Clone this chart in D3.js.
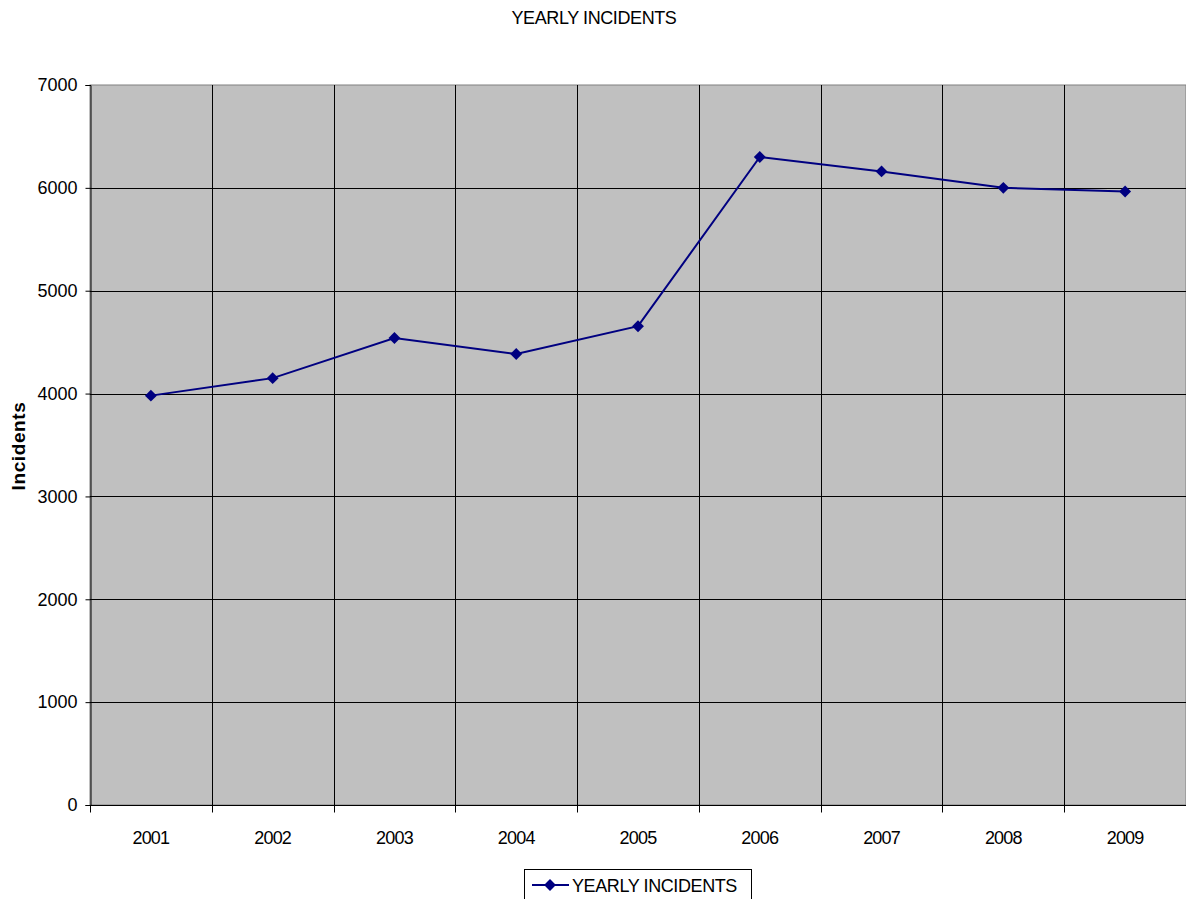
<!DOCTYPE html>
<html>
<head>
<meta charset="utf-8">
<script src="https://cdn.jsdelivr.net/npm/d3@7"></script>
<style>
  body { margin: 0; background: #fff; }
  svg { display: block; font-family: "Liberation Sans", Arial, sans-serif; }
</style>
</head>
<body>
<div id="app"></div>
<script>
const years = ["2001", "2002", "2003", "2004", "2005", "2006", "2007", "2008", "2009"];
const incidents = [3980, 4150, 4540, 4385, 4655, 6300, 6160, 6000, 5965];
const yTicks = [0, 1000, 2000, 3000, 4000, 5000, 6000, 7000];

const width = 1186, height = 899;
const margin = { top: 85, right: 0, bottom: 94, left: 90 };

const svg = d3.select("#app").append("svg")
  .attr("width", width).attr("height", height);

const x = d3.scaleBand().domain(years).range([margin.left, width - margin.right]);
const y = d3.scaleLinear().domain([0, 7000]).range([height - margin.bottom, margin.top]);

// plot background
svg.append("rect")
  .attr("x", margin.left).attr("y", margin.top)
  .attr("width", width - margin.right - margin.left)
  .attr("height", y(0) - margin.top)
  .attr("fill", "#c0c0c0")
  .attr("stroke", "#808080")
  .attr("stroke-width", 1);

// horizontal gridlines
svg.append("g")
  .selectAll("line")
  .data(yTicks.slice(1, -1))
  .join("line")
  .attr("x1", margin.left).attr("x2", width - margin.right)
  .attr("y1", (d) => Math.round(y(d)) + 0.5).attr("y2", (d) => Math.round(y(d)) + 0.5)
  .attr("stroke", "#000");

// vertical gridlines at category boundaries
svg.append("g")
  .selectAll("line")
  .data(years.slice(1))
  .join("line")
  .attr("x1", (d) => Math.round(x(d)) + 0.5).attr("x2", (d) => Math.round(x(d)) + 0.5)
  .attr("y1", margin.top).attr("y2", y(0))
  .attr("stroke", "#000");

// y axis
const yAxis = svg.append("g")
  .attr("transform", `translate(${margin.left + 0.5},0)`)
  .call(d3.axisLeft(y).tickValues(yTicks).tickSize(5).tickPadding(8).tickFormat(d3.format("d")));
yAxis.selectAll("text").attr("font-size", 18).attr("fill", "#000").attr("font-family", "Liberation Sans, Arial, sans-serif");
yAxis.selectAll("line, path").attr("stroke", "#000");

// x axis with ticks at band boundaries
const xAxis = svg.append("g")
  .attr("transform", `translate(0,${Math.round(y(0)) + 0.5})`);
xAxis.append("line")
  .attr("x1", margin.left).attr("x2", width - margin.right)
  .attr("stroke", "#000");
xAxis.selectAll("line.tick")
  .data(years)
  .join("line")
  .attr("class", "tick")
  .attr("x1", (d) => Math.round(x(d)) + 0.5).attr("x2", (d) => Math.round(x(d)) + 0.5)
  .attr("y1", 0).attr("y2", 7)
  .attr("stroke", "#000");
xAxis.selectAll("text")
  .data(years)
  .join("text")
  .attr("x", (d) => x(d) + x.bandwidth() / 2)
  .attr("y", 38)
  .attr("text-anchor", "middle")
  .attr("font-size", 18)
  .attr("letter-spacing", -0.8)
  .text((d) => d);

// line
const line = d3.line()
  .x((d, i) => x(years[i]) + x.bandwidth() / 2)
  .y((d) => y(d));

svg.append("path")
  .datum(incidents)
  .attr("fill", "none")
  .attr("stroke", "#000080")
  .attr("stroke-width", 2)
  .attr("d", line);

const diamond = d3.symbol().type(d3.symbolDiamond2).size(90);
svg.append("g")
  .selectAll("path")
  .data(incidents)
  .join("path")
  .attr("transform", (d, i) => `translate(${x(years[i]) + x.bandwidth() / 2},${y(d)})`)
  .attr("d", diamond)
  .attr("fill", "#000080");

// title
svg.append("text")
  .attr("x", 594).attr("y", 24)
  .attr("text-anchor", "middle")
  .attr("font-size", 18)
  .attr("letter-spacing", -0.4)
  .text("YEARLY INCIDENTS");

// y axis title
svg.append("text")
  .attr("transform", `translate(25,446) rotate(-90)`)
  .attr("text-anchor", "middle")
  .attr("font-size", 19)
  .attr("font-weight", "bold")
  .attr("letter-spacing", 0.6)
  .text("Incidents");

// legend
const legend = svg.append("g").attr("transform", "translate(524,869)");
legend.append("rect")
  .attr("x", 0.5).attr("y", 0.5)
  .attr("width", 227).attr("height", 40)
  .attr("fill", "#fff")
  .attr("stroke", "#000");
legend.append("line")
  .attr("x1", 8).attr("x2", 45).attr("y1", 16).attr("y2", 16)
  .attr("stroke", "#000080").attr("stroke-width", 2);
legend.append("path")
  .attr("transform", "translate(26,16)")
  .attr("d", diamond)
  .attr("fill", "#000080");
legend.append("text")
  .attr("x", 48).attr("y", 23)
  .attr("font-size", 18)
  .attr("letter-spacing", -0.4)
  .text("YEARLY INCIDENTS");
</script>
</body>
</html>
